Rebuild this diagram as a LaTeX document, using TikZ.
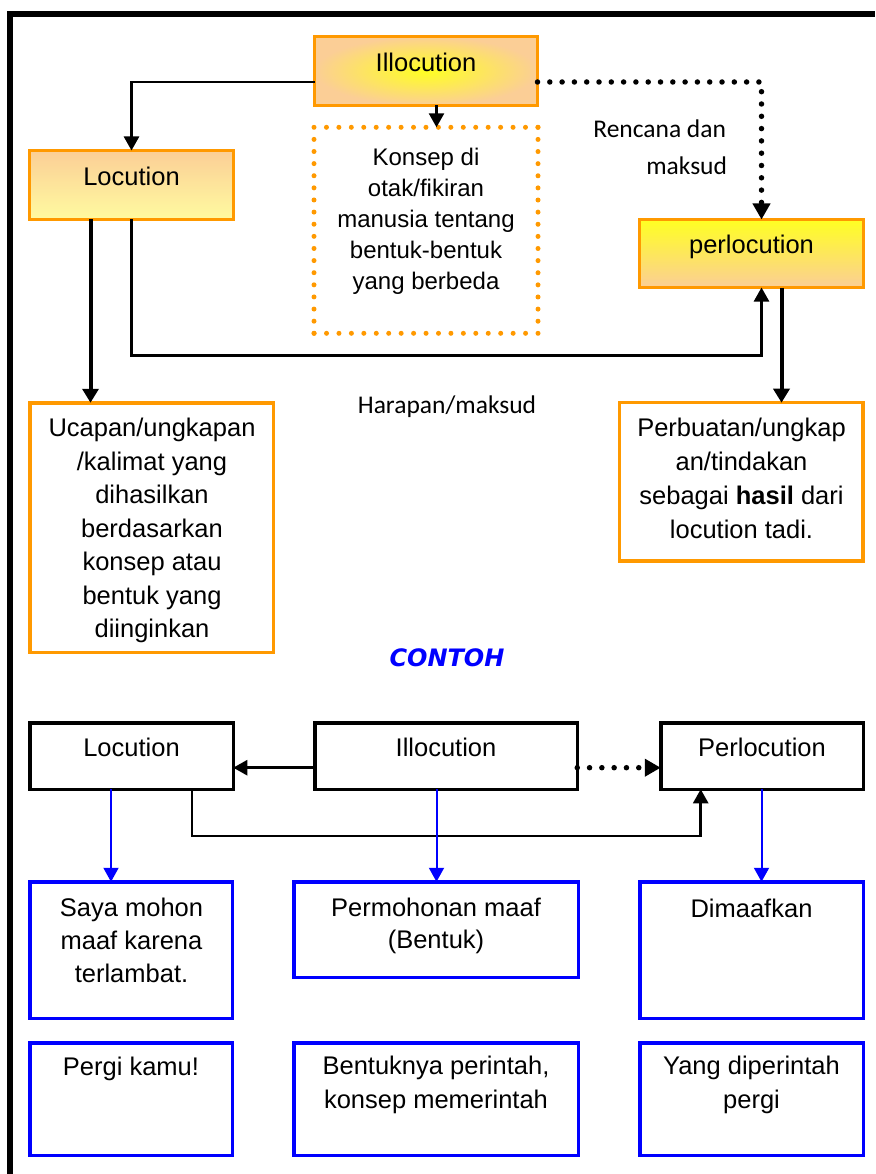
\documentclass[tikz,border=0pt]{standalone}
\usepackage{fontspec}
\setmainfont{Liberation Sans}
\newfontfamily\calib{Carlito}
\newfontfamily\heavy{DejaVu Sans}
\usetikzlibrary{arrows.meta}

\definecolor{peach}{HTML}{FBCE96}
\definecolor{paleyellow}{HTML}{FFFBA0}
\definecolor{brightyellow}{HTML}{FFFF22}
\definecolor{boxorange}{HTML}{FF9900}
\definecolor{pureblue}{HTML}{0000FF}

\tikzset{
  every node/.style={inner sep=0pt, outer sep=0pt},
  gradbox/.style={draw=boxorange, line width=3pt},
  orangeframe/.style={draw=boxorange, line width=3.5pt, fill=white},
  dotside/.style={draw=boxorange, line width=5pt, line cap=round},
  blackframe/.style={draw=black, line width=3.5pt},
  blueframe/.style={draw=pureblue, line width=3.5pt},
  txt/.style={font=\fontsize{25.5}{33.5}\selectfont, align=center},
  note/.style={font=\calib\fontsize{25.5}{30}\selectfont},
  link/.style={draw, line width=2.5pt, -{Triangle[length=14pt,width=15pt]}},
  boldlink/.style={draw, line width=4pt, -{Triangle[length=14pt,width=16pt]}},
  dotlink/.style={draw, line width=5.5pt, dash pattern=on 0pt off 12.3pt,
    line cap=round, -{Triangle[length=16pt,width=17pt]}},
  bluelink/.style={draw=pureblue, line width=2pt, -{Triangle[length=14pt,width=15pt]}},
}

\begin{document}
\begin{tikzpicture}[x=1pt,y=-1pt]
\useasboundingbox (0,0) rectangle (875,1174);

% page frame
\draw[line width=6pt] (10,1174) -- (10,14) -- (875,14);

% ---------- upper scheme ----------
\node[gradbox, inner color=brightyellow, outer color=peach,
      minimum width=223pt, minimum height=69pt] (ill) at (426,71) {};
\node[gradbox, top color=peach, bottom color=paleyellow,
      minimum width=204pt, minimum height=69pt] (loc) at (131.5,185) {};
\node[gradbox, top color=brightyellow, bottom color=peach,
      minimum width=224pt, minimum height=68pt] (perl) at (751.5,253.5) {};
\node[minimum width=224pt, minimum height=206pt] (konsep) at (426,230.3) {};
\draw[dotside, dash pattern=on 0pt off 12.44pt] (konsep.north west) -- (konsep.north east);
\draw[dotside, dash pattern=on 0pt off 12.12pt] (konsep.north east) -- (konsep.south east);
\draw[dotside, dash pattern=on 0pt off 12.44pt] (konsep.south east) -- (konsep.south west);
\draw[dotside, dash pattern=on 0pt off 12.12pt] (konsep.south west) -- (konsep.north west);
\node[orangeframe, minimum width=243.5pt, minimum height=249.5pt] (ucap) at (151.5,527.5) {};
\node[orangeframe, minimum width=243.8pt, minimum height=158.2pt] (perb) at (741.3,481.8) {};

\node[txt, anchor=base] (illtxt) at (426,72) {Illocution};
\node[txt, anchor=base] (loctxt) at (131.5,186) {Locution};
\node[txt, anchor=base] (perltxt) at (751.5,254) {perlocution};
\node[txt, anchor=north, font=\fontsize{24}{31}\selectfont] (konseptxt) at (426,148)
  {Konsep di\\otak/fikiran\\manusia tentang\\bentuk-bentuk\\yang berbeda};
\node[txt, anchor=north] (ucaptxt) at (152,418.5)
  {Ucapan/ungkapan\\/kalimat yang\\dihasilkan\\berdasarkan\\konsep atau\\bentuk yang\\diinginkan};
\node[txt, anchor=north, font=\fontsize{25.5}{34}\selectfont] (perbtxt) at (741.5,418.5)
  {Perbuatan/ungkap\\an/tindakan\\sebagai \textbf{hasil} dari\\locution tadi.};
\node[note, anchor=base east] (rencana) at (726,138) {Rencana dan};
\node[note, anchor=base east] (maksud) at (727,175) {maksud};
\node[note, anchor=base] (harapan) at (447,413) {Harapan/maksud};

\draw[link] ([yshift=-11pt]ill.west) -| (loc.north);
\draw[link] ([xshift=10.5pt]ill.south) -- ([xshift=10.5pt]ill.south |- konsep.north);
\draw[dotlink] ([yshift=-11pt]ill.east) -| ([xshift=10pt]perl.north);
\draw[boldlink] ([xshift=-41pt]loc.south) -- ([xshift=-41pt]loc.south |- ucap.north);
\draw[link] (loc.south) -- ++(0,136) -| ([xshift=10pt]perl.south);
\draw[boldlink] ([xshift=30pt]perl.south) -- ([xshift=30pt]perl.south |- perb.north);

% ---------- example ----------
\node[font=\heavy\bfseries\itshape\fontsize{24}{28}\selectfont, text=pureblue, anchor=base]
  (contoh) at (447,666) {CONTOH};

\node[blackframe, minimum width=203.5pt, minimum height=66.5pt] (bloc) at (131.5,756) {};
\node[blackframe, minimum width=262.5pt, minimum height=66.5pt] (bill) at (446,756) {};
\node[blackframe, minimum width=202.5pt, minimum height=66.5pt] (bperl) at (762,756) {};
\node[txt, anchor=base] at (131.5,756) {Locution};
\node[txt, anchor=base] at (446,756) {Illocution};
\node[txt, anchor=base] at (762,756) {Perlocution};

\node[blueframe, minimum width=202.5pt, minimum height=136.5pt] (b1) at (131,950) {};
\node[blueframe, minimum width=284.5pt, minimum height=95.5pt] (b2) at (436,929.5) {};
\node[blueframe, minimum width=223.5pt, minimum height=136.5pt] (b3) at (751.5,950) {};
\node[blueframe, minimum width=202.5pt, minimum height=112.5pt] (c1) at (131,1099) {};
\node[blueframe, minimum width=284.5pt, minimum height=112.5pt] (c2) at (436,1099) {};
\node[blueframe, minimum width=223.5pt, minimum height=112.5pt] (c3) at (751.5,1099) {};

\node[txt, anchor=north, font=\fontsize{25.5}{33}\selectfont] at (131.5,898.5)
  {Saya mohon\\maaf karena\\terlambat.};
\node[txt, anchor=north, font=\fontsize{25.5}{32}\selectfont] at (436,898.5)
  {Permohonan maaf\\(Bentuk)};
\node[txt, anchor=base] at (751.5,917) {Dimaafkan};
\node[txt, anchor=base] at (131,1075) {Pergi kamu!};
\node[txt, anchor=north, font=\fontsize{25.5}{34}\selectfont] at (436,1056.5)
  {Bentuknya perintah,\\konsep memerintah};
\node[txt, anchor=north, font=\fontsize{25.5}{34}\selectfont] at (751.5,1056.5)
  {Yang diperintah\\pergi};

\draw[link] ([yshift=-11.7pt]bill.west) -- ([yshift=-11.7pt]bloc.east);
\draw[dotlink] ([yshift=-11.7pt]bill.east) -- ([yshift=-11.7pt]bperl.west);
\draw[link] ([xshift=60.5pt]bloc.south) -- ++(0,46.5) -| ([xshift=-61.3pt]bperl.south);
\draw[bluelink] ([xshift=-20.5pt]bloc.south) -- ([xshift=-20.5pt]bloc.south |- b1.north);
\draw[bluelink] ([xshift=-9.5pt]bill.south) -- ([xshift=-9.5pt]bill.south |- b2.north);
\draw[bluelink] ([xshift=-0.5pt]bperl.south) -- ([xshift=-0.5pt]bperl.south |- b3.north);
\end{tikzpicture}
\end{document}
